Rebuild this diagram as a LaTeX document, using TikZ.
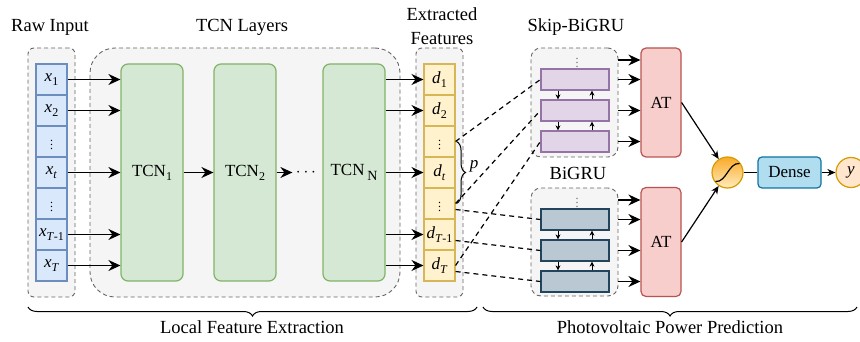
\documentclass[tikz,border=0pt]{standalone}
\usepackage{fontspec}
\setmainfont{Liberation Serif}
\usepackage{tikz}
\usetikzlibrary{calc, arrows.meta, decorations.pathreplacing, shadings}

\definecolor{inblue}{HTML}{DAE8FC}
\definecolor{inbord}{HTML}{6C8EBF}
\definecolor{tcngreen}{HTML}{D5E8D4}
\definecolor{tcnbord}{HTML}{82B366}
\definecolor{featyel}{HTML}{FFF2CC}
\definecolor{featbord}{HTML}{D6B656}
\definecolor{skipvio}{HTML}{E1D5E7}
\definecolor{skipbord}{HTML}{9673A6}
\definecolor{grublue}{HTML}{BAC8D3}
\definecolor{grubord}{HTML}{23445D}
\definecolor{atred}{HTML}{F8CECC}
\definecolor{atbord}{HTML}{B85450}
\definecolor{denseblue}{HTML}{B1DDF0}
\definecolor{densebord}{HTML}{10739E}
\definecolor{outorange}{HTML}{FFE6CC}
\definecolor{outbord}{HTML}{D79B00}
\definecolor{boxgray}{HTML}{F5F5F5}
\definecolor{dashgray}{HTML}{666666}

\newcommand{\lowidx}[1]{\raisebox{-0.5ex}{\fontsize{12}{12}\selectfont #1}}

\begin{document}
\begin{tikzpicture}[x=1pt, y=-1pt, font=\fontsize{17}{20}\selectfont,
  group/.style={draw=dashgray, dash pattern=on 4pt off 3pt, fill=boxgray, line width=0.9pt, inner sep=0},
  cell/.style={draw=#1, line width=1.1pt, minimum width=31pt, minimum height=31pt, inner sep=0},
  tcn/.style={draw=tcnbord, fill=tcngreen, line width=1.2pt, rounded corners=7pt, minimum width=62pt, minimum height=217pt, inner sep=0},
  bar/.style={draw=#1, line width=1.2pt, minimum width=68pt, minimum height=21pt, inner sep=0},
  atbox/.style={draw=atbord, fill=atred, line width=1.2pt, rounded corners=5pt, minimum width=40pt, minimum height=109pt, inner sep=0},
  title/.style={font=\fontsize{18.5}{24}\selectfont, align=center},
  arr/.style={-{Stealth[length=12pt, width=11pt, inset=4pt]}, line width=1.4pt},
  arrsm/.style={-{Stealth[length=8pt, width=7pt, inset=2.5pt]}, line width=1.2pt},
  arrtiny/.style={-{Stealth[length=5pt, width=5pt, inset=1.5pt]}, line width=1pt},
  link/.style={dash pattern=on 5pt off 4pt, line width=1.2pt},
  bbrace/.style={decorate, decoration={brace, amplitude=9pt}, line width=1pt}]
  \useasboundingbox (0,0) rectangle (860,342);

  \node[group, rounded corners=6pt, minimum width=47pt, minimum height=249pt] (rawbox) at (51.5,172.5) {};
  \node[group, rounded corners=25pt, minimum width=310pt, minimum height=249pt] (tcnbox) at (245,172.5) {};
  \node[group, rounded corners=6pt, minimum width=47pt, minimum height=249pt] (featbox) at (439.5,172.5) {};
  \node[group, rounded corners=10pt, minimum width=87pt, minimum height=109pt] (skipbox) at (574.5,102.5) {};
  \node[group, rounded corners=10pt, minimum width=87pt, minimum height=108pt] (grubox) at (574.5,242) {};

  \node[title] (rawtitle) at (50,27) {Raw Input};
  \node[title] (tcntitle) at (242,27) {TCN Layers};
  \node[title] (feattitle) at (442,26) {Extracted\\Features};
  \node[title] (skiptitle) at (576,27) {Skip-BiGRU};
  \node[title] (grutitle) at (578,173) {BiGRU};

  \foreach \i/\t in {1/\lowidx{1}, 2/\lowidx{2}, 4/\lowidx{\textit{t}}, 6/\lowidx{\textit{T}-1}, 7/\lowidx{\textit{T}}} {
    \node[cell=inbord, fill=inblue] (x\i) at (51.5,48.5+31*\i) {\textit{x}\t};
    \node[cell=featbord, fill=featyel] (d\i) at (439.5,48.5+31*\i) {\textit{d}\t};
  }
  \foreach \i in {3,5} {
    \node[cell=inbord, fill=inblue] (x\i) at (51.5,48.5+31*\i) {\fontsize{12}{12}\selectfont$\vdots$};
    \node[cell=featbord, fill=featyel] (d\i) at (439.5,48.5+31*\i) {\fontsize{12}{12}\selectfont$\vdots$};
  }

  \node[tcn] (tcn1) at (152,172.5) {TCN\lowidx{1}};
  \node[tcn] (tcn2) at (245,172.5) {TCN\lowidx{2}};
  \node (tcndots) at (306,172.5) {$\cdots$};
  \node[tcn] (tcnN) at (354,172.5) {TCN\,\raisebox{-0.6ex}{\fontsize{14}{14}\selectfont N}};
  \draw[arr] (tcn1) -- (tcn2);
  \draw[arr] (tcn2) -- (tcndots);
  \foreach \i in {1,2,4,6,7} {
    \draw[arr] (x\i.east) -- (x\i.east -| tcn1.west);
    \draw[arr] (tcnN.east |- d\i) -- (d\i.west);
  }

  \foreach \i/\y in {1/79.5, 2/110.5, 3/141.5} {
    \node[bar=skipbord, fill=skipvio] (sk\i) at (575,\y) {};
    \node[bar=grubord, fill=grublue] (bg\i) at (575,\y+140) {};
  }
  \node[text=dashgray, font=\fontsize{12}{12}\selectfont] (skdots) at (577,60) {$\vdots$};
  \node[text=dashgray, font=\fontsize{12}{12}\selectfont] (bgdots) at (577,200) {$\vdots$};
  \foreach \b in {sk,bg} {
    \foreach \i/\j in {1/2, 2/3} {
      \draw[arrtiny] ([xshift=-17pt]\b\i.south) -- ([xshift=-17pt]\b\j.north);
      \draw[arrtiny] ([xshift=17pt]\b\j.north) -- ([xshift=17pt]\b\i.south);
    }
  }

  \node[atbox] (at1) at (661,102.5) {AT};
  \node[atbox] (at2) at (661,242) {AT};
  \foreach \r in {skdots, sk1, sk2, sk3}
    \draw[arr] (skipbox.east |- \r) -- (at1.west |- \r);
  \foreach \r in {bgdots, bg1, bg2, bg3}
    \draw[arr] (grubox.east |- \r) -- (at2.west |- \r);

  \draw[link] (d3.east) -- (sk1.west);
  \draw[link] (d5.east) -- (sk2.west);
  \draw[link] (d7.east) -- (sk3.west);
  \draw[link] ([yshift=-6pt]d5.east) -- (bg1.west);
  \draw[link] ([yshift=-6pt]d6.east) -- (bg2.west);
  \draw[link] ([yshift=-6pt]d7.east) -- (bg3.west);

  \draw[bbrace] ([xshift=1pt]d3.east) -- ([xshift=1pt]d5.east);
  \node (plab) at (474,166) {\textit{p}};

  \node[circle, minimum size=31pt, inner sep=0, draw=outbord, line width=1.2pt,
        top color={rgb,255:red,250;green,170;blue,40}, bottom color={rgb,255:red,255;green,236;blue,190}] (sig) at (727.5,172.5) {};
  \draw[line width=1.2pt] ($(sig)+(-12,9)$) .. controls ($(sig)+(-1,10)$) and ($(sig)+(1,-10)$) .. ($(sig)+(12,-9)$);
  \node[draw=densebord, fill=denseblue, line width=1.2pt, rounded corners=4pt, minimum width=63pt, minimum height=31pt, inner sep=0] (dense) at (789.5,172.5) {Dense};
  \node[circle, minimum size=30pt, inner sep=0, draw=outbord, fill=outorange, line width=1.2pt] (yout) at (851,172.5) {\textit{y}};
  \draw[arrsm] (at1.east) -- (sig);
  \draw[arrsm] (at2.east) -- (sig);
  \draw[line width=1.2pt] (sig) -- (dense);
  \draw[arrsm] (dense) -- (yout);

  \draw[bbrace] (477,307) -- (28,307);
  \node[title] (loclab) at (252,327) {Local Feature Extraction};
  \draw[bbrace] (857,307) -- (483,307);
  \node[title] (pvlab) at (670,327) {Photovoltaic Power Prediction};
\end{tikzpicture}
\end{document}
